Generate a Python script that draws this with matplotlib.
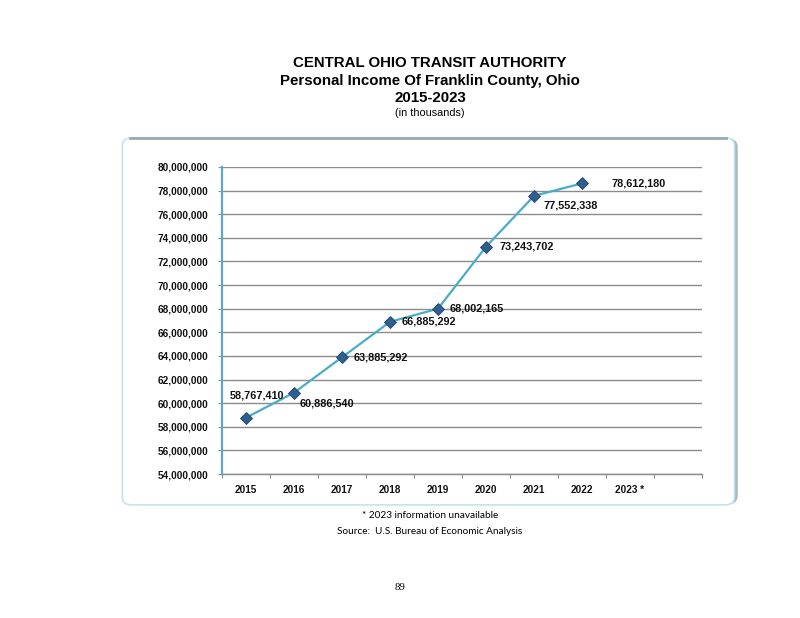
import matplotlib
matplotlib.use("Agg")
import matplotlib.pyplot as plt
from matplotlib.patches import FancyBboxPatch
from matplotlib.ticker import FuncFormatter, MultipleLocator, FixedLocator

# datos del grafico
years = ["2015", "2016", "2017", "2018", "2019", "2020", "2021", "2022", "2023 *", ""]
income = [58767410, 60886540, 63885292, 66885292, 68002165, 73243702, 77552338, 78612180]
income_labels = ["58,767,410", "60,886,540", "63,885,292", "66,885,292",
                 "68,002,165", "73,243,702", "77,552,338", "78,612,180"]

# posicion de cada etiqueta (pixeles respecto al punto) y alineacion
label_offsets = [(11, 22), (33, -11), (12, 0), (12, 0), (12, 0), (13, 0), (9, -10), (30, 0)]
label_align = ["center", "center", "left", "left", "left", "left", "left", "left"]

fig = plt.figure(figsize=(8, 6.18), dpi=100)
fig.patch.set_facecolor("white")

# panel redondeado detras del grafico
shadow = FancyBboxPatch((0.155, 0.186), 0.765, 0.588, boxstyle="round,pad=0,rounding_size=0.012",
                        transform=fig.transFigure, facecolor="none", edgecolor="#A9B9BF",
                        linewidth=2.5, zorder=0)
panel = FancyBboxPatch((0.153, 0.183), 0.765, 0.594, boxstyle="round,pad=0,rounding_size=0.012",
                       transform=fig.transFigure, facecolor="white", edgecolor="#C5E3EC",
                       linewidth=1.2, zorder=0)
fig.patches.append(shadow)
fig.patches.append(panel)
# borde superior gris
fig.add_artist(plt.Line2D([0.163, 0.908], [0.777, 0.777], transform=fig.transFigure,
                          color="#9AAAB0", linewidth=2, zorder=1))

ax = fig.add_axes([0.2775, 0.233, 0.6, 0.4968])
ax.set_facecolor("none")
ax.set_zorder(5)

x = list(range(len(income)))
ax.plot(x, income, color="#4BACC6", linewidth=1.6, zorder=3)
ax.plot(x, income, linestyle="none", marker="D", markersize=6.2,
        markerfacecolor="#2F5F8F", markeredgecolor="#1F4468", markeredgewidth=0.6, zorder=4)

for i, (val, txt) in enumerate(zip(income, income_labels)):
    ax.annotate(txt, (x[i], val), xytext=label_offsets[i], textcoords="offset pixels",
                ha=label_align[i], va="center", fontsize=7.8, fontweight="bold",
                family="Liberation Sans", color="#111111", zorder=5)

ax.set_xlim(-0.5, len(years) - 0.5)
ax.set_ylim(54000000, 80000000)
ax.yaxis.set_major_locator(MultipleLocator(2000000))
ax.yaxis.set_major_formatter(FuncFormatter(lambda v, p: f"{int(v):,}"))
ax.grid(axis="y", color="#8C8C8C", linewidth=1.0)
ax.set_axisbelow(True)

# marcas del eje x entre categorias
ax.xaxis.set_major_locator(FixedLocator([i - 0.5 for i in range(len(years) + 1)]))
ax.xaxis.set_major_formatter(FuncFormatter(lambda v, p: ""))
ax.xaxis.set_minor_locator(FixedLocator(list(range(len(years)))))
ax.set_xticklabels(years, minor=True)
ax.tick_params(axis="x", which="major", length=3, color="#8C8C8C", direction="out")
ax.tick_params(axis="x", which="minor", length=0, pad=8)
ax.tick_params(axis="y", length=3, color="#5FA8C0", direction="out", pad=7)

for lbl in ax.get_xticklabels(minor=True) + ax.get_yticklabels():
    lbl.set_family("Liberation Sans")
    lbl.set_fontweight("bold")
    lbl.set_fontsize(7.2)
    lbl.set_color("#111111")

ax.spines["top"].set_visible(False)
ax.spines["right"].set_visible(False)
ax.spines["left"].set_color("#5FA8C0")
ax.spines["left"].set_linewidth(1.6)
ax.spines["bottom"].set_color("#8C8C8C")
ax.spines["bottom"].set_linewidth(1.0)

# titulos
fig.text(0.5375, 1 - 63 / 618, "CENTRAL OHIO TRANSIT AUTHORITY", ha="center", va="center",
         fontsize=10.8, fontweight="bold", family="Liberation Sans")
fig.text(0.5375, 1 - 81 / 618, "Personal Income Of Franklin County, Ohio", ha="center", va="center",
         fontsize=10.8, fontweight="bold", family="Liberation Sans")
fig.text(0.5375, 1 - 98 / 618, "2015-2023", ha="center", va="center",
         fontsize=10.8, fontweight="bold", family="Liberation Sans")
fig.text(0.5375, 1 - 113 / 618, "(in thousands)", ha="center", va="center",
         fontsize=7.8, family="Liberation Sans")

# notas
fig.text(0.5375, 1 - 516 / 618, "* 2023 information unavailable", ha="center", va="center",
         fontsize=7.2, family="Lato")
fig.text(0.5375, 1 - 531 / 618, "Source:  U.S. Bureau of Economic Analysis", ha="center", va="center",
         fontsize=7.2, family="Lato")
fig.text(0.5, 1 - 588 / 618, "89", ha="center", va="center", fontsize=7.8, family="Liberation Serif")

fig.savefig("out.png", dpi=100)
